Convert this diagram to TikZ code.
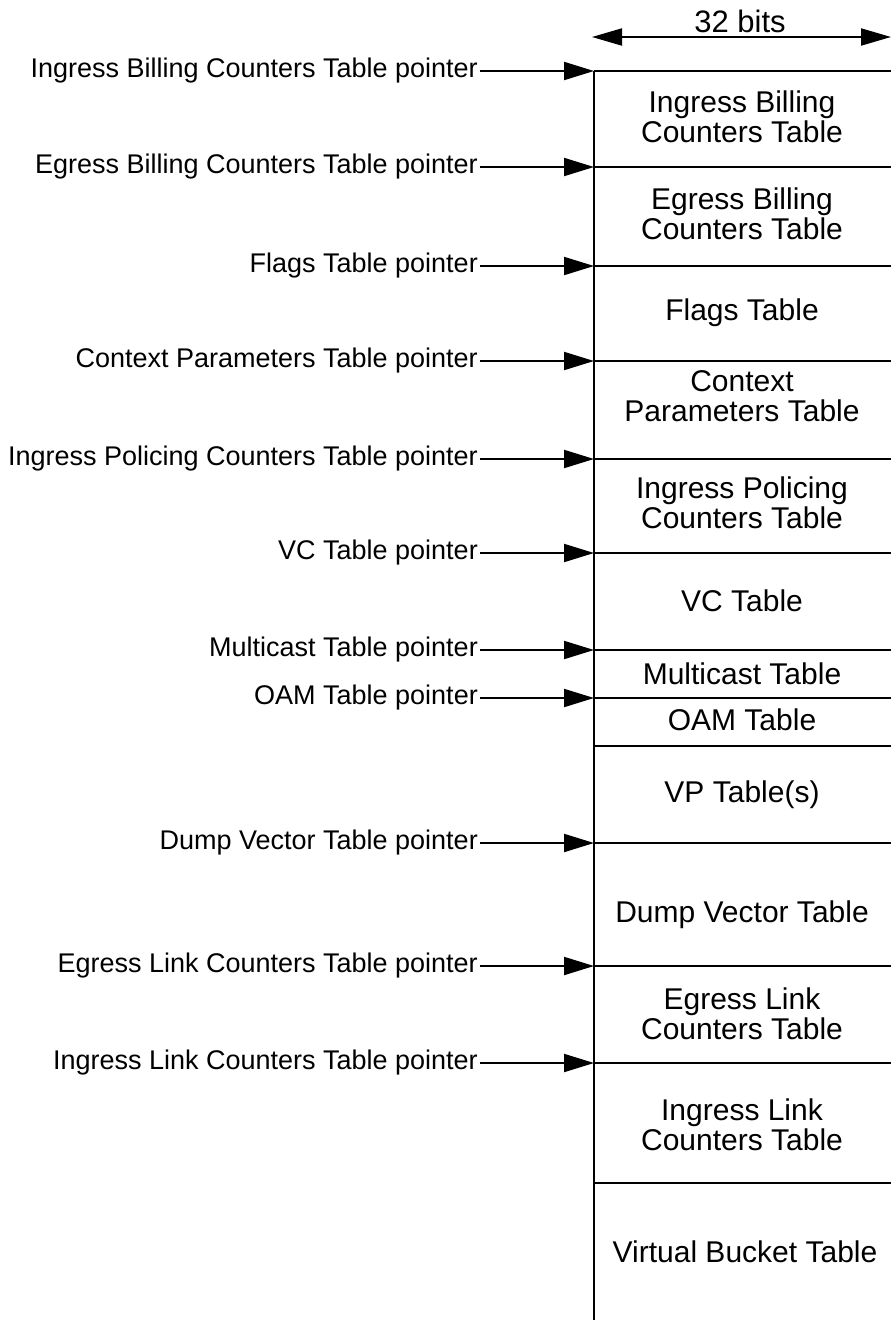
\documentclass[tikz,border=0pt]{standalone}
\usepackage{fontspec}
\setmainfont{Liberation Sans}
\usetikzlibrary{arrows.meta}
\begin{document}
\begin{tikzpicture}[x=1pt,y=-1pt,
  lbl/.style={anchor=base east, inner sep=0pt, font=\fontsize{27}{30}\selectfont},
  tbl/.style={align=center, inner sep=0pt, font=\fontsize{30}{30}\selectfont},
  ptr/.style={-{Triangle[length=30pt,width=18pt]}, line width=2pt},
  rulebar/.style={line width=2pt}]
\useasboundingbox (0,0) rectangle (891,1323);

% dimension
\coordinate (dl) at (592,37);
\coordinate (dr) at (891,37);
\draw[{Triangle[length=30pt,width=17pt]}-{Triangle[length=30pt,width=17pt]}, line width=2pt] (dl) -- (dr);
\node[anchor=base, inner sep=0pt, font=\fontsize{31}{31}\selectfont] (bits) at (740,32) {32 bits};

% pointer coordinates on the column edge
\coordinate (p1) at (594,71);
\coordinate (p2) at (594,167);
\coordinate (p3) at (594,266);
\coordinate (p4) at (594,361);
\coordinate (p5) at (594,459);
\coordinate (p6) at (594,553);
\coordinate (p7) at (594,650);
\coordinate (p8) at (594,698);
\coordinate (q1) at (594,746);
\coordinate (p9) at (594,843);
\coordinate (p10) at (594,966);
\coordinate (p11) at (594,1063);
\coordinate (q2) at (594,1183);
\coordinate (bot) at (594,1320);

% column
\draw[rulebar] (p1) -- (bot);
\foreach \c in {p1,p2,p3,p4,p5,p6,p7,p8,q1,p9,p10,p11,q2}
  \draw[rulebar] (\c) -- ++(300,0);

% labels
\node[lbl] (l1) at (478,77) {Ingress Billing Counters Table pointer};
\node[lbl] (l2) at (478,173) {Egress Billing Counters Table pointer};
\node[lbl] (l3) at (478,272) {Flags Table pointer};
\node[lbl] (l4) at (478,367) {Context Parameters Table pointer};
\node[lbl] (l5) at (478,465) {Ingress Policing Counters Table pointer};
\node[lbl] (l6) at (478,559) {VC Table pointer};
\node[lbl] (l7) at (478,656) {Multicast Table pointer};
\node[lbl] (l8) at (478,704) {OAM Table pointer};
\node[lbl] (l9) at (478,849) {Dump Vector Table pointer};
\node[lbl] (l10) at (478,972) {Egress Link Counters Table pointer};
\node[lbl] (l11) at (478,1069) {Ingress Link Counters Table pointer};

\foreach \i in {1,...,11}
  \draw[ptr] ([xshift=2pt]l\i.east |- p\i) -- (p\i);

% table names
\node[tbl] (t1) at (742,117) {Ingress Billing\\Counters Table};
\node[tbl] (t2) at (742,214) {Egress Billing\\Counters Table};
\node[tbl] (t3) at (742,313) {Flags Table};
\node[tbl] (t4) at (742,396) {Context\\Parameters Table};
\node[tbl] (t5) at (742,503) {Ingress Policing\\Counters Table};
\node[tbl] (t6) at (742,601) {VC Table};
\node[tbl] (t7) at (742,674) {Multicast Table};
\node[tbl] (t8) at (742,720) {OAM Table};
\node[tbl] (t9) at (742,795) {VP Table(s)};
\node[tbl] (t10) at (742,915) {Dump Vector Table};
\node[tbl] (t11) at (742,1014) {Egress Link\\Counters Table};
\node[tbl] (t12) at (742,1125) {Ingress Link\\Counters Table};
\node[tbl] (t13) at (745,1252) {Virtual Bucket Table};
\end{tikzpicture}
\end{document}
